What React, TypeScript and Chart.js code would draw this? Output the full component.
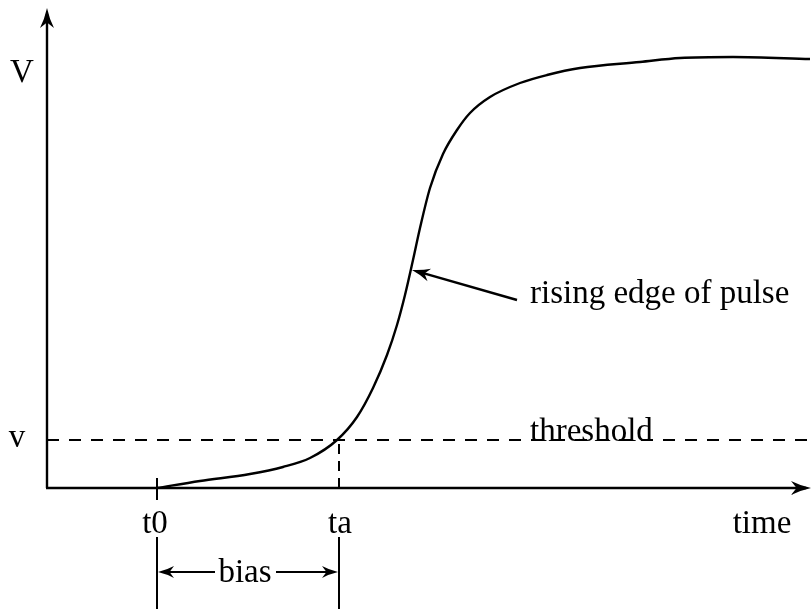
import React, { useEffect, useRef } from "react";
import { Chart, registerables } from "chart.js";

Chart.register(...registerables);

// Curve of the pulse (time units, voltage units)
const curveTime = [110, 153, 203, 236, 263, 290, 310, 326, 340, 350, 358, 366, 373, 383, 396, 410, 423, 443, 473, 500, 533, 593, 633, 686, 763];
const curveVolt = [0, 7, 14, 21, 30, 48, 71, 100, 133, 163, 193, 228, 260, 300, 334, 358, 375, 391, 405, 413, 420, 426, 430, 431, 429];

// Axis extents
const timeMax = 765;
const voltMax = 480;

// Markers
const thresholdV = 48;
const t0 = 110;
const ta = 292;
const markerLabels = ["t0", "ta"];
const axisLabels = ["V", "v", "time"];
const annotationText = "rising edge of pulse";
const thresholdText = "threshold";
const biasText = "bias";
const arrowTarget = { t: 365, v: 218 };

const FONT = "'Liberation Serif', 'DejaVu Serif', serif";

function arrowHead(ctx: CanvasRenderingContext2D, x: number, y: number, angle: number, len = 18, half = 7) {
  ctx.save();
  ctx.translate(x, y);
  ctx.rotate(angle);
  ctx.beginPath();
  ctx.moveTo(0, 0);
  ctx.quadraticCurveTo(-len * 0.55, -half * 0.35, -len, -half);
  ctx.lineTo(-len * 0.72, 0);
  ctx.lineTo(-len, half);
  ctx.quadraticCurveTo(-len * 0.55, half * 0.35, 0, 0);
  ctx.closePath();
  ctx.fill();
  ctx.restore();
}

const overlay = {
  id: "overlay",
  afterDraw(chart: any) {
    const ctx: CanvasRenderingContext2D = chart.ctx;
    const xs = chart.scales.x;
    const ys = chart.scales.y;
    const X = (v: number) => xs.getPixelForValue(v);
    const Y = (v: number) => ys.getPixelForValue(v);
    ctx.save();
    ctx.strokeStyle = "#000";
    ctx.fillStyle = "#000";
    ctx.lineWidth = 2.4;
    ctx.setLineDash([]);
    // axes
    const x0 = X(0), y0 = Y(0);
    ctx.beginPath();
    ctx.moveTo(x0, y0);
    ctx.lineTo(x0, Y(voltMax) + 6);
    ctx.moveTo(x0 - 1, y0);
    ctx.lineTo(X(timeMax) - 6, y0);
    ctx.stroke();
    arrowHead(ctx, x0, Y(voltMax), -Math.PI / 2, 20, 7);
    arrowHead(ctx, X(timeMax) - 1, y0, 0, 20, 7);

    // tick at t0
    ctx.lineWidth = 2;
    ctx.beginPath();
    ctx.moveTo(X(t0), y0 - 10);
    ctx.lineTo(X(t0), y0 + 12);
    ctx.stroke();

    // bias lines below
    ctx.beginPath();
    ctx.moveTo(X(t0), y0 + 49);
    ctx.lineTo(X(t0), y0 + 121);
    ctx.moveTo(X(ta), y0 + 49);
    ctx.lineTo(X(ta), y0 + 121);
    ctx.stroke();

    const by = y0 + 84;
    ctx.lineWidth = 2;
    ctx.beginPath();
    ctx.moveTo(X(t0) + 6, by);
    ctx.lineTo(X(t0) + 58, by);
    ctx.moveTo(X(ta) - 6, by);
    ctx.lineTo(X(ta) - 63, by);
    ctx.stroke();
    arrowHead(ctx, X(t0) + 1, by, Math.PI, 16, 6);
    arrowHead(ctx, X(ta) - 1, by, 0, 16, 6);

    // annotation arrow
    const ax = X(arrowTarget.t), ay = Y(arrowTarget.v);
    const sx = 517, sy = 300;
    const ang = Math.atan2(ay - sy, ax - sx);
    ctx.lineWidth = 2.4;
    ctx.beginPath();
    ctx.moveTo(sx, sy);
    ctx.lineTo(ax - Math.cos(ang) * 8, ay - Math.sin(ang) * 8);
    ctx.stroke();
    arrowHead(ctx, ax, ay, ang, 18, 6.5);

    // texts
    ctx.font = `33px ${FONT}`;
    ctx.textBaseline = "alphabetic";
    ctx.textAlign = "center";
    ctx.fillText(axisLabels[0], 22, 82);
    ctx.fillText(axisLabels[1], 17, Y(thresholdV) + 7);
    ctx.fillText(markerLabels[0], X(t0) - 2, y0 + 45);
    ctx.fillText(markerLabels[1], X(ta) + 1, y0 + 45);
    ctx.fillText(axisLabels[2], 762, y0 + 45);
    ctx.fillText(biasText, (X(t0) + X(ta)) / 2 - 3, by + 10);
    ctx.textAlign = "left";
    ctx.fillText(annotationText, 530, 303);
    ctx.fillText(thresholdText, 530, Y(thresholdV) + 1);
    ctx.restore();
  },
};

export default function App() {
  const ref = useRef<HTMLCanvasElement>(null);
  useEffect(() => {
    document.body.style.margin = "0";
    const canvas = ref.current!;
    const chart = new Chart(canvas, {
      type: "line",
      data: {
        datasets: [
          {
            data: curveTime.map((t, i) => ({ x: t, y: curveVolt[i] })),
            borderColor: "#000",
            borderWidth: 2.4,
            pointRadius: 0,
            cubicInterpolationMode: "monotone",
            fill: false,
          },
          {
            data: [
              { x: 0, y: thresholdV },
              { x: timeMax, y: thresholdV },
            ],
            borderColor: "#000",
            borderWidth: 2,
            borderDash: [12, 10],
            pointRadius: 0,
          },
          {
            data: [
              { x: ta, y: 0 },
              { x: ta, y: thresholdV },
            ],
            borderColor: "#000",
            borderWidth: 2,
            borderDash: [10, 7],
            pointRadius: 0,
          },
        ],
      },
      options: {
        animation: false,
        responsive: false,
        events: [],
        layout: { padding: { left: 47, right: 0, top: 8, bottom: 121 } },
        plugins: { legend: { display: false }, tooltip: { enabled: false } },
        scales: {
          x: { type: "linear", min: 0, max: timeMax, display: false },
          y: { type: "linear", min: 0, max: voltMax, display: false },
        },
      },
      plugins: [overlay],
    });
    return () => chart.destroy();
  }, []);
  return <canvas ref={ref} width={812} height={609} style={{ display: "block" }} />;
}
